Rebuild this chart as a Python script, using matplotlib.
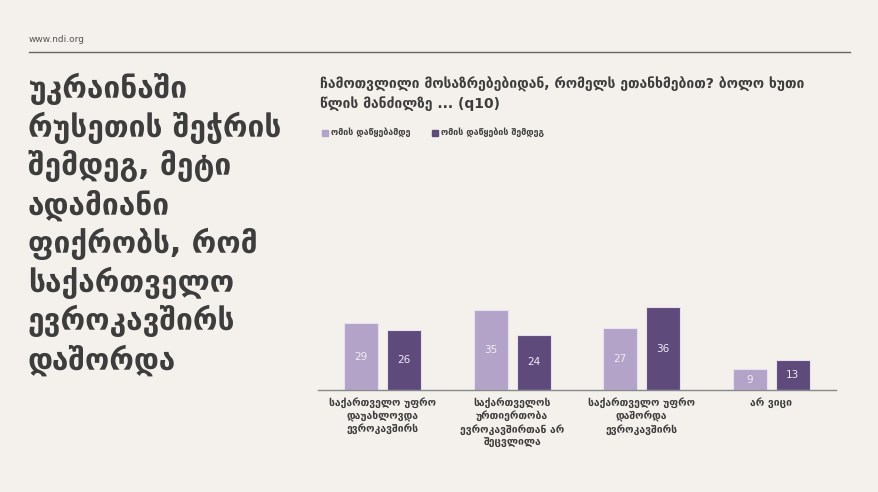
import numpy as np
import matplotlib
matplotlib.use("Agg")
import matplotlib.pyplot as plt
from matplotlib.patches import Rectangle

plt.rcParams['font.family'] = ['DejaVu Sans']

# data
categories = [
    "საქართველო უფრო\nდაუახლოვდა\nევროკავშირს",
    "საქართველოს\nურთიერთობა\nევროკავშირთან არ\nშეცვლილა",
    "საქართველო უფრო\nდაშორდა\nევროკავშირს",
    "არ ვიცი",
]
series_names = ["ომის დაწყებამდე", "ომის დაწყების შემდეგ"]
before_war = [29, 35, 27, 9]
after_war = [26, 24, 36, 13]

title_lines = [
    "უკრაინაში",
    "რუსეთის შეჭრის",
    "შემდეგ, მეტი",
    "ადამიანი",
    "ფიქრობს, რომ",
    "საქართველო",
    "ევროკავშირს",
    "დაშორდა",
]
question = "ჩამოთვლილი მოსაზრებებიდან, რომელს ეთანხმებით? ბოლო ხუთი\nწლის მანძილზე ... (q10)"

bg = "#f4f1ec"
light = "#b3a3c9"
dark = "#5e4a7b"
text_col = "#3d3d3d"

W, H = 879, 492
fig = plt.figure(figsize=(W / 100, H / 100), dpi=100, facecolor=bg)

def fx(px):
    return px / W

def fy(py):
    return 1 - py / H

# header
fig.text(fx(29), fy(40), "www.ndi.org", fontsize=6.5, color="#555555", va="center")
fig.add_artist(plt.Line2D([fx(29), fx(850)], [fy(52), fy(52)], color="#666666", lw=1))

# big title on the left
for i, line in enumerate(title_lines):
    fig.text(fx(28), fy(89 + i * 38.7), line, fontsize=21.5, fontweight="bold",
             color=text_col, va="center")

# question + legend
fig.text(fx(320), fy(94), question, fontsize=10, fontweight="bold", color=text_col,
         va="center", linespacing=1.35)
leg_x = [322, 432]
for name, col, lx in zip(series_names, [light, dark], leg_x):
    fig.add_artist(Rectangle((fx(lx), fy(136)), fx(6), 6 / H, color=col,
                             transform=fig.transFigure))
    fig.text(fx(lx + 9), fy(132.5), name, fontsize=6.4, fontweight="bold",
             color=text_col, va="center")

# bar chart
ax = fig.add_axes([fx(318), fy(390), fx(518), 92 / H])
ax.set_facecolor(bg)
x = np.arange(len(categories))
bw = 0.266
off = 0.166
b1 = ax.bar(x - off, before_war, bw, color=light, edgecolor="#e8e0f0", lw=0.8)
b2 = ax.bar(x + off, after_war, bw, color=dark, edgecolor="#e8e0f0", lw=0.8)
for bars, vals in [(b1, before_war), (b2, after_war)]:
    for rect, v in zip(bars, vals):
        ax.text(rect.get_x() + rect.get_width() / 2, v / 2, str(v),
                ha="center", va="center", fontsize=7.5, color="#f0ecf5")

ax.set_xlim(-0.5, len(categories) - 0.5)
ax.set_ylim(0, 40)
ax.set_yticks([])
ax.set_xticks(x)
ax.set_xticklabels(categories, fontsize=7.5, fontweight="bold", color=text_col,
                   linespacing=1.3)
ax.tick_params(axis="x", length=0, pad=5)
for s in ["top", "right", "left"]:
    ax.spines[s].set_visible(False)
ax.spines["bottom"].set_color("#888888")
ax.spines["bottom"].set_linewidth(1)

fig.savefig("out.png", dpi=100, facecolor=bg)
